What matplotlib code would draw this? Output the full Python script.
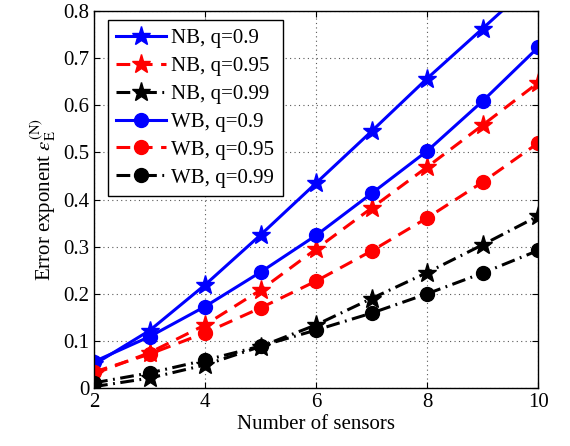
import matplotlib
matplotlib.use("Agg")
import matplotlib.pyplot as plt

plt.rcParams["font.family"] = ["Liberation Serif", "DejaVu Serif"]
plt.rcParams["mathtext.fontset"] = "stix"

sensors = [2, 3, 4, 5, 6, 7, 8, 9, 10]

nb_09 = [0.05, 0.122, 0.219, 0.325, 0.435, 0.545, 0.657, 0.763, 0.87]
nb_095 = [0.03, 0.075, 0.134, 0.208, 0.295, 0.382, 0.469, 0.558, 0.648]
nb_099 = [0.003, 0.021, 0.049, 0.088, 0.134, 0.19, 0.245, 0.304, 0.365]
wb_09 = [0.056, 0.109, 0.173, 0.246, 0.324, 0.413, 0.503, 0.609, 0.723]
wb_095 = [0.034, 0.072, 0.117, 0.17, 0.227, 0.291, 0.361, 0.437, 0.52]
wb_099 = [0.011, 0.032, 0.059, 0.089, 0.123, 0.159, 0.2, 0.244, 0.292]

fig = plt.figure(figsize=(5.7, 4.46), dpi=100)
ax = fig.add_axes([0.165, 0.13, 0.779, 0.845])

lw = 2.2
dash = (4.5, 2.8)
dashdot = (4.5, 1.8, 0.6, 1.8)
ax.plot(sensors, nb_09, "-", color="blue", marker="*", ms=14, lw=lw, label="NB, q=0.9")
ax.plot(sensors, nb_095, color="red", marker="*", ms=14, lw=lw, dashes=dash, label="NB, q=0.95")
ax.plot(sensors, nb_099, color="black", marker="*", ms=14, lw=lw, dashes=dashdot, label="NB, q=0.99")
ax.plot(sensors, wb_09, "-", color="blue", marker="o", ms=10, lw=lw, label="WB, q=0.9")
ax.plot(sensors, wb_095, color="red", marker="o", ms=10, lw=lw, dashes=dash, label="WB, q=0.95")
ax.plot(sensors, wb_099, color="black", marker="o", ms=10, lw=lw, dashes=dashdot, label="WB, q=0.99")

ax.set_xlim(2, 10)
ax.set_ylim(0, 0.8)
ax.set_xticks([2, 4, 6, 8, 10])
ax.set_yticks([0, 0.1, 0.2, 0.3, 0.4, 0.5, 0.6, 0.7, 0.8])
ax.set_yticklabels(["0", "0.1", "0.2", "0.3", "0.4", "0.5", "0.6", "0.7", "0.8"])
ax.tick_params(direction="in", labelsize=15, top=True, right=True, length=4)
ax.grid(True, linestyle=(0, (1, 3)), color="0.35", linewidth=0.8)
for s in ax.spines.values():
    s.set_linewidth(1.0)

ax.set_xlabel("Number of sensors", fontsize=15, labelpad=2)
ax.set_ylabel(r"Error exponent $\varepsilon_{\mathrm{E}}^{(\mathrm{N})}$", fontsize=15)

leg = ax.legend(loc="upper left", fontsize=15, handlelength=2.4, fancybox=False,
                edgecolor="black", framealpha=1, borderpad=0.4, labelspacing=0.4,
                handletextpad=0.25, borderaxespad=0, bbox_to_anchor=(0.031, 0.976))
leg.get_frame().set_linewidth(1.0)

fig.savefig("out.png", dpi=100)
